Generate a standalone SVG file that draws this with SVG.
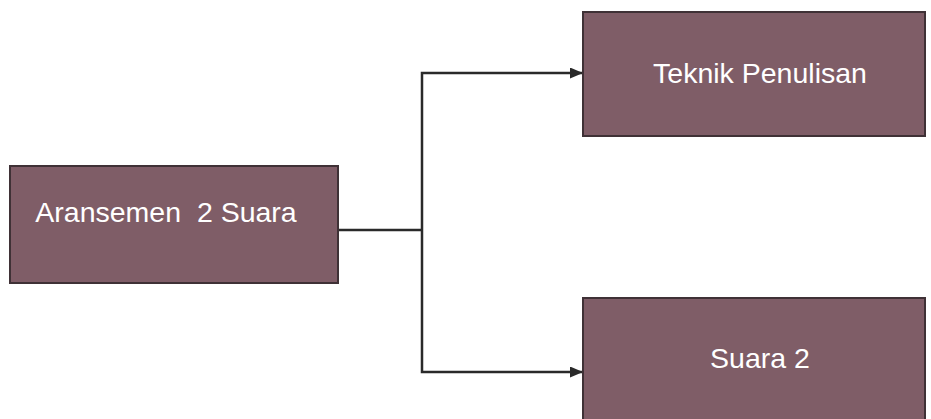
<svg xmlns="http://www.w3.org/2000/svg" width="931" height="419" viewBox="0 0 931 419">
<style>
.box{fill:#7f5d67;stroke:#3f3136;stroke-width:2}
.lbl{fill:#ffffff;font-family:"Liberation Sans",Arial,sans-serif;font-size:28.5px;text-anchor:middle;white-space:pre}
.conn{fill:none;stroke:#2a2a2a;stroke-width:2.5}
</style>
<defs>
<marker id="arr" markerWidth="13" markerHeight="11" refX="12" refY="5.5" orient="auto" markerUnits="userSpaceOnUse">
<path d="M0,0 L13,5.5 L0,11 Z" fill="#2a2a2a"/>
</marker>
</defs>
<rect width="931" height="419" fill="#ffffff"/>
<g id="connectors">
<path class="conn" d="M338,230 H422"/>
<path class="conn" d="M422,230 V73 H582" marker-end="url(#arr)"/>
<path class="conn" d="M422,230 V372 H582" marker-end="url(#arr)"/>
</g>
<g id="node-aransemen">
<rect class="box" x="10" y="166" width="328" height="117"/>
<text class="lbl" x="166" y="222" xml:space="preserve">Aransemen  2 Suara</text>
</g>
<g id="node-teknik">
<rect class="box" x="583" y="12" width="342" height="124"/>
<text class="lbl" x="760" y="83">Teknik Penulisan</text>
</g>
<g id="node-suara2">
<rect class="box" x="583" y="298" width="342" height="124"/>
<text class="lbl" x="760" y="368">Suara 2</text>
</g>
</svg>
